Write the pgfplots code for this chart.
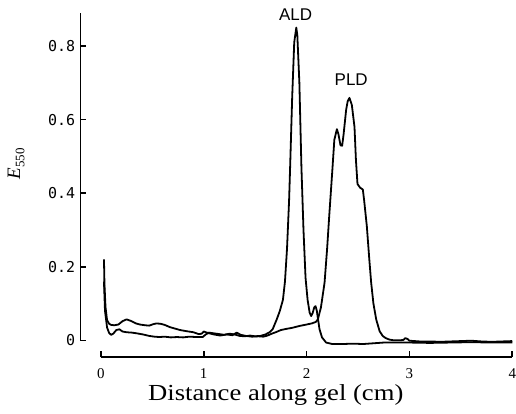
\documentclass[border=0pt]{standalone}
\usepackage{pgfplots}
\pgfplotsset{compat=1.18}
\usepackage{fontspec}
\setmainfont{Liberation Serif}
\newfontfamily\sansf{Liberation Sans}
\newfontfamily\monof{DejaVu Sans Mono}
\newfontfamily\wideserif[FakeStretch=1.16]{Liberation Serif}

\begin{document}
\begin{tikzpicture}
\begin{axis}[
  x=51.5pt, y=184.25pt,
  xmin=-0.2, xmax=4.0, ymin=0, ymax=0.89,
  clip=false,
  axis y line*=left, axis x line=none,
  axis line style={line width=0.8pt},
  tick align=inside, major tick length=3pt,
  tick style={line width=0.8pt, black},
  ytick={0,0.2,0.4,0.6,0.8},
  yticklabels={0,0.2,0.4,0.6,0.8},
  yticklabel style={font=\monof\fontsize{7.5}{9}\selectfont, xshift=1pt},
  ylabel={\fontsize{9.5}{11}\selectfont\textit{E}\raisebox{-0.5ex}{\fontsize{6.5}{7}\selectfont 550}},
  ylabel style={yshift=5pt, xshift=6.5pt},
]
\addplot[black, no marks, line width=0.9pt, line join=round] coordinates {
(0.03,0.16) (0.04,0.08) (0.06,0.035) (0.08,0.02) (0.1,0.015) (0.12,0.018)
(0.15,0.028) (0.18,0.03) (0.21,0.024) (0.25,0.022) (0.3,0.021) (0.35,0.019)
(0.41,0.016) (0.47,0.012) (0.52,0.01) (0.57,0.009) (0.62,0.01) (0.68,0.008)
(0.74,0.009) (0.8,0.008) (0.86,0.01) (0.93,0.009) (0.99,0.009) (1.02,0.016)
(1.05,0.021) (1.1,0.019) (1.15,0.017) (1.2,0.015) (1.25,0.018) (1.3,0.016)
(1.35,0.012) (1.4,0.011) (1.45,0.013) (1.5,0.011) (1.55,0.012) (1.6,0.016)
(1.64,0.022) (1.67,0.03) (1.71,0.057) (1.74,0.08) (1.77,0.11) (1.79,0.16)
(1.81,0.25) (1.83,0.38) (1.84,0.47) (1.86,0.66) (1.88,0.81) (1.9,0.85)
(1.91,0.83) (1.93,0.7) (1.95,0.47) (1.97,0.3) (1.99,0.17) (2.01,0.11)
(2.03,0.075) (2.045,0.066) (2.06,0.075) (2.075,0.09) (2.087,0.093) (2.1,0.08)
(2.11,0.06) (2.126,0.03) (2.15,0.008) (2.19,-0.006) (2.25,-0.01) (2.35,-0.01)
(2.45,-0.009) (2.55,-0.01) (2.65,-0.008) (2.75,-0.006) (2.85,-0.006)
(3.0,-0.006) (3.2,-0.007) (3.4,-0.006) (3.6,-0.005) (3.8,-0.006) (4.0,-0.006)
};
\addplot[black, no marks, line width=0.9pt, line join=round] coordinates {
(0.03,0.22) (0.035,0.15) (0.045,0.09) (0.06,0.055) (0.08,0.045) (0.1,0.042)
(0.13,0.041) (0.17,0.043) (0.21,0.052) (0.25,0.057) (0.29,0.053) (0.34,0.046)
(0.38,0.043) (0.43,0.041) (0.47,0.040) (0.51,0.044) (0.54,0.046) (0.58,0.045)
(0.62,0.042) (0.67,0.036) (0.72,0.032) (0.77,0.028) (0.83,0.025) (0.9,0.022)
(0.95,0.017) (0.98,0.018) (1.0,0.024) (1.04,0.02) (1.1,0.016) (1.16,0.013)
(1.22,0.016) (1.28,0.014) (1.32,0.021) (1.36,0.015) (1.41,0.012) (1.47,0.01)
(1.53,0.011) (1.58,0.01) (1.62,0.013) (1.66,0.018) (1.7,0.022) (1.75,0.028)
(1.8,0.031) (1.86,0.034) (1.93,0.039) (2.0,0.043) (2.05,0.046) (2.09,0.05)
(2.11,0.057) (2.14,0.09) (2.175,0.157) (2.2,0.25) (2.22,0.337) (2.25,0.46)
(2.27,0.545) (2.295,0.574) (2.31,0.56) (2.33,0.53) (2.346,0.529) (2.36,0.56)
(2.385,0.627) (2.40,0.65) (2.417,0.659) (2.44,0.64) (2.466,0.58) (2.48,0.49)
(2.495,0.425) (2.52,0.415) (2.547,0.41) (2.56,0.38) (2.586,0.31) (2.61,0.22)
(2.628,0.157) (2.65,0.1) (2.677,0.057) (2.71,0.025) (2.74,0.012) (2.77,0.006)
(2.806,0.002) (2.85,0.0) (2.9,0.0) (2.94,0.001) (2.96,0.006) (2.98,0.004)
(3.0,-0.001) (3.1,-0.003) (3.2,-0.003) (3.3,-0.004) (3.4,-0.003) (3.5,-0.002)
(3.6,-0.001) (3.7,-0.003) (3.8,-0.004) (3.9,-0.003) (4.0,-0.002)
};
% separate distance axis below the traces
\draw[line width=0.8pt] (axis cs:0,-0.046) -- (axis cs:4,-0.046);
\pgfplotsinvokeforeach{0,1,2,3,4}{
  \draw[line width=0.8pt] (axis cs:#1,-0.046) -- (axis cs:#1,-0.030);
  \node[anchor=north, inner sep=0pt, font=\fontsize{7.5}{9}\selectfont, yshift=-5.5pt] at (axis cs:#1,-0.046) {#1};
}
\node[anchor=base west, inner sep=0pt, font=\wideserif\fontsize{11.5}{13}\selectfont] at (axis cs:0.456,-0.164) {Distance along gel (cm)};
\node[font=\sansf\fontsize{8.5}{10}\selectfont] at (axis cs:1.893,0.885) {ALD};
\node[font=\sansf\fontsize{8.5}{10}\selectfont] at (axis cs:2.434,0.708) {PLD};
% frame the page like the reference
\path (axis cs:-0.981,0.925) rectangle (axis cs:4.029,-0.198);
\end{axis}
\end{tikzpicture}
\end{document}
